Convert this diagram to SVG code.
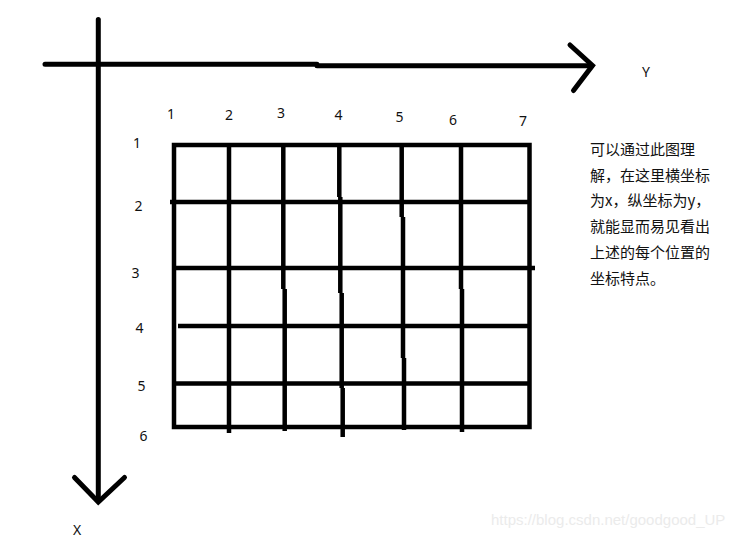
<svg xmlns="http://www.w3.org/2000/svg" width="748" height="538" viewBox="0 0 748 538">
<style>
.ax{stroke:#000;stroke-width:5;fill:none;stroke-linecap:round;stroke-linejoin:miter}
.g{stroke:#000;stroke-width:4.5;fill:none;stroke-linecap:butt}
.n{font-family:"Noto Sans","Liberation Sans",sans-serif;font-size:14px;fill:#111;text-anchor:middle}
.t{font-family:"Noto Sans CJK SC",sans-serif;font-size:15px;fill:#111}
.wm{font-family:"Liberation Sans",Arial,sans-serif;font-size:15px;fill:#ebebeb}
</style>
<rect width="748" height="538" fill="#fff"/>
<g id="connectors">
<g id="y-axis">
<path class="ax" d="M45 64.3 H317 M317 65.7 H591"/>
<path class="ax" d="M570 45 L592.5 65.5 L573.5 90.5"/>
</g>
<g id="x-axis">
<path class="ax" d="M98.3 19.5 V501"/>
<path class="ax" d="M74.5 477.5 L98.3 502 L124.5 477.5"/>
</g>
</g>
<g id="grid">
<rect class="g" x="174" y="145" width="355.5" height="282" stroke-linejoin="miter"/>
<path class="g" d="M170 202 H529 M173 268 H535 M178 326 H529 M174 383.5 H529"/>
<path class="g" d="M229 145 V433"/>
<path class="g" d="M283.3 145 V289 M284.7 289 V431"/>
<path class="g" d="M339.3 145 V197 M340.3 197 V293 M341.7 293 V388 M342.7 388 V437"/>
<path class="g" d="M401.7 145 V217 M403 217 V358 M404 358 V430"/>
<path class="g" d="M461 145 V289 M462 289 V432"/>
</g>
<g id="top-labels">
<text class="n" x="171" y="119">1</text>
<text class="n" x="229" y="120">2</text>
<text class="n" x="281" y="118">3</text>
<text class="n" x="338.5" y="120">4</text>
<text class="n" x="399.5" y="122">5</text>
<text class="n" x="453" y="124.5">6</text>
<text class="n" x="523" y="126">7</text>
</g>
<g id="left-labels">
<text class="n" x="137" y="148">1</text>
<text class="n" x="138.5" y="211">2</text>
<text class="n" x="135.5" y="278">3</text>
<text class="n" x="139.5" y="333">4</text>
<text class="n" x="141.5" y="391">5</text>
<text class="n" x="143.5" y="441">6</text>
</g>
<g id="axis-labels">
<text class="n" x="646" y="77">Y</text>
<text class="n" x="77" y="535">X</text>
</g>
<g id="note">
<text class="t" x="590" y="155">可以通过此图理</text>
<text class="t" x="590" y="181">解，在这里横坐标</text>
<text class="t" x="590" y="206">为x，纵坐标为y，</text>
<text class="t" x="590" y="232">就能显而易见看出</text>
<text class="t" x="590" y="258">上述的每个位置的</text>
<text class="t" x="590" y="284">坐标特点。</text>
</g>
<text class="wm" x="491" y="525">https://blog.csdn.net/goodgood_UP</text>
</svg>
